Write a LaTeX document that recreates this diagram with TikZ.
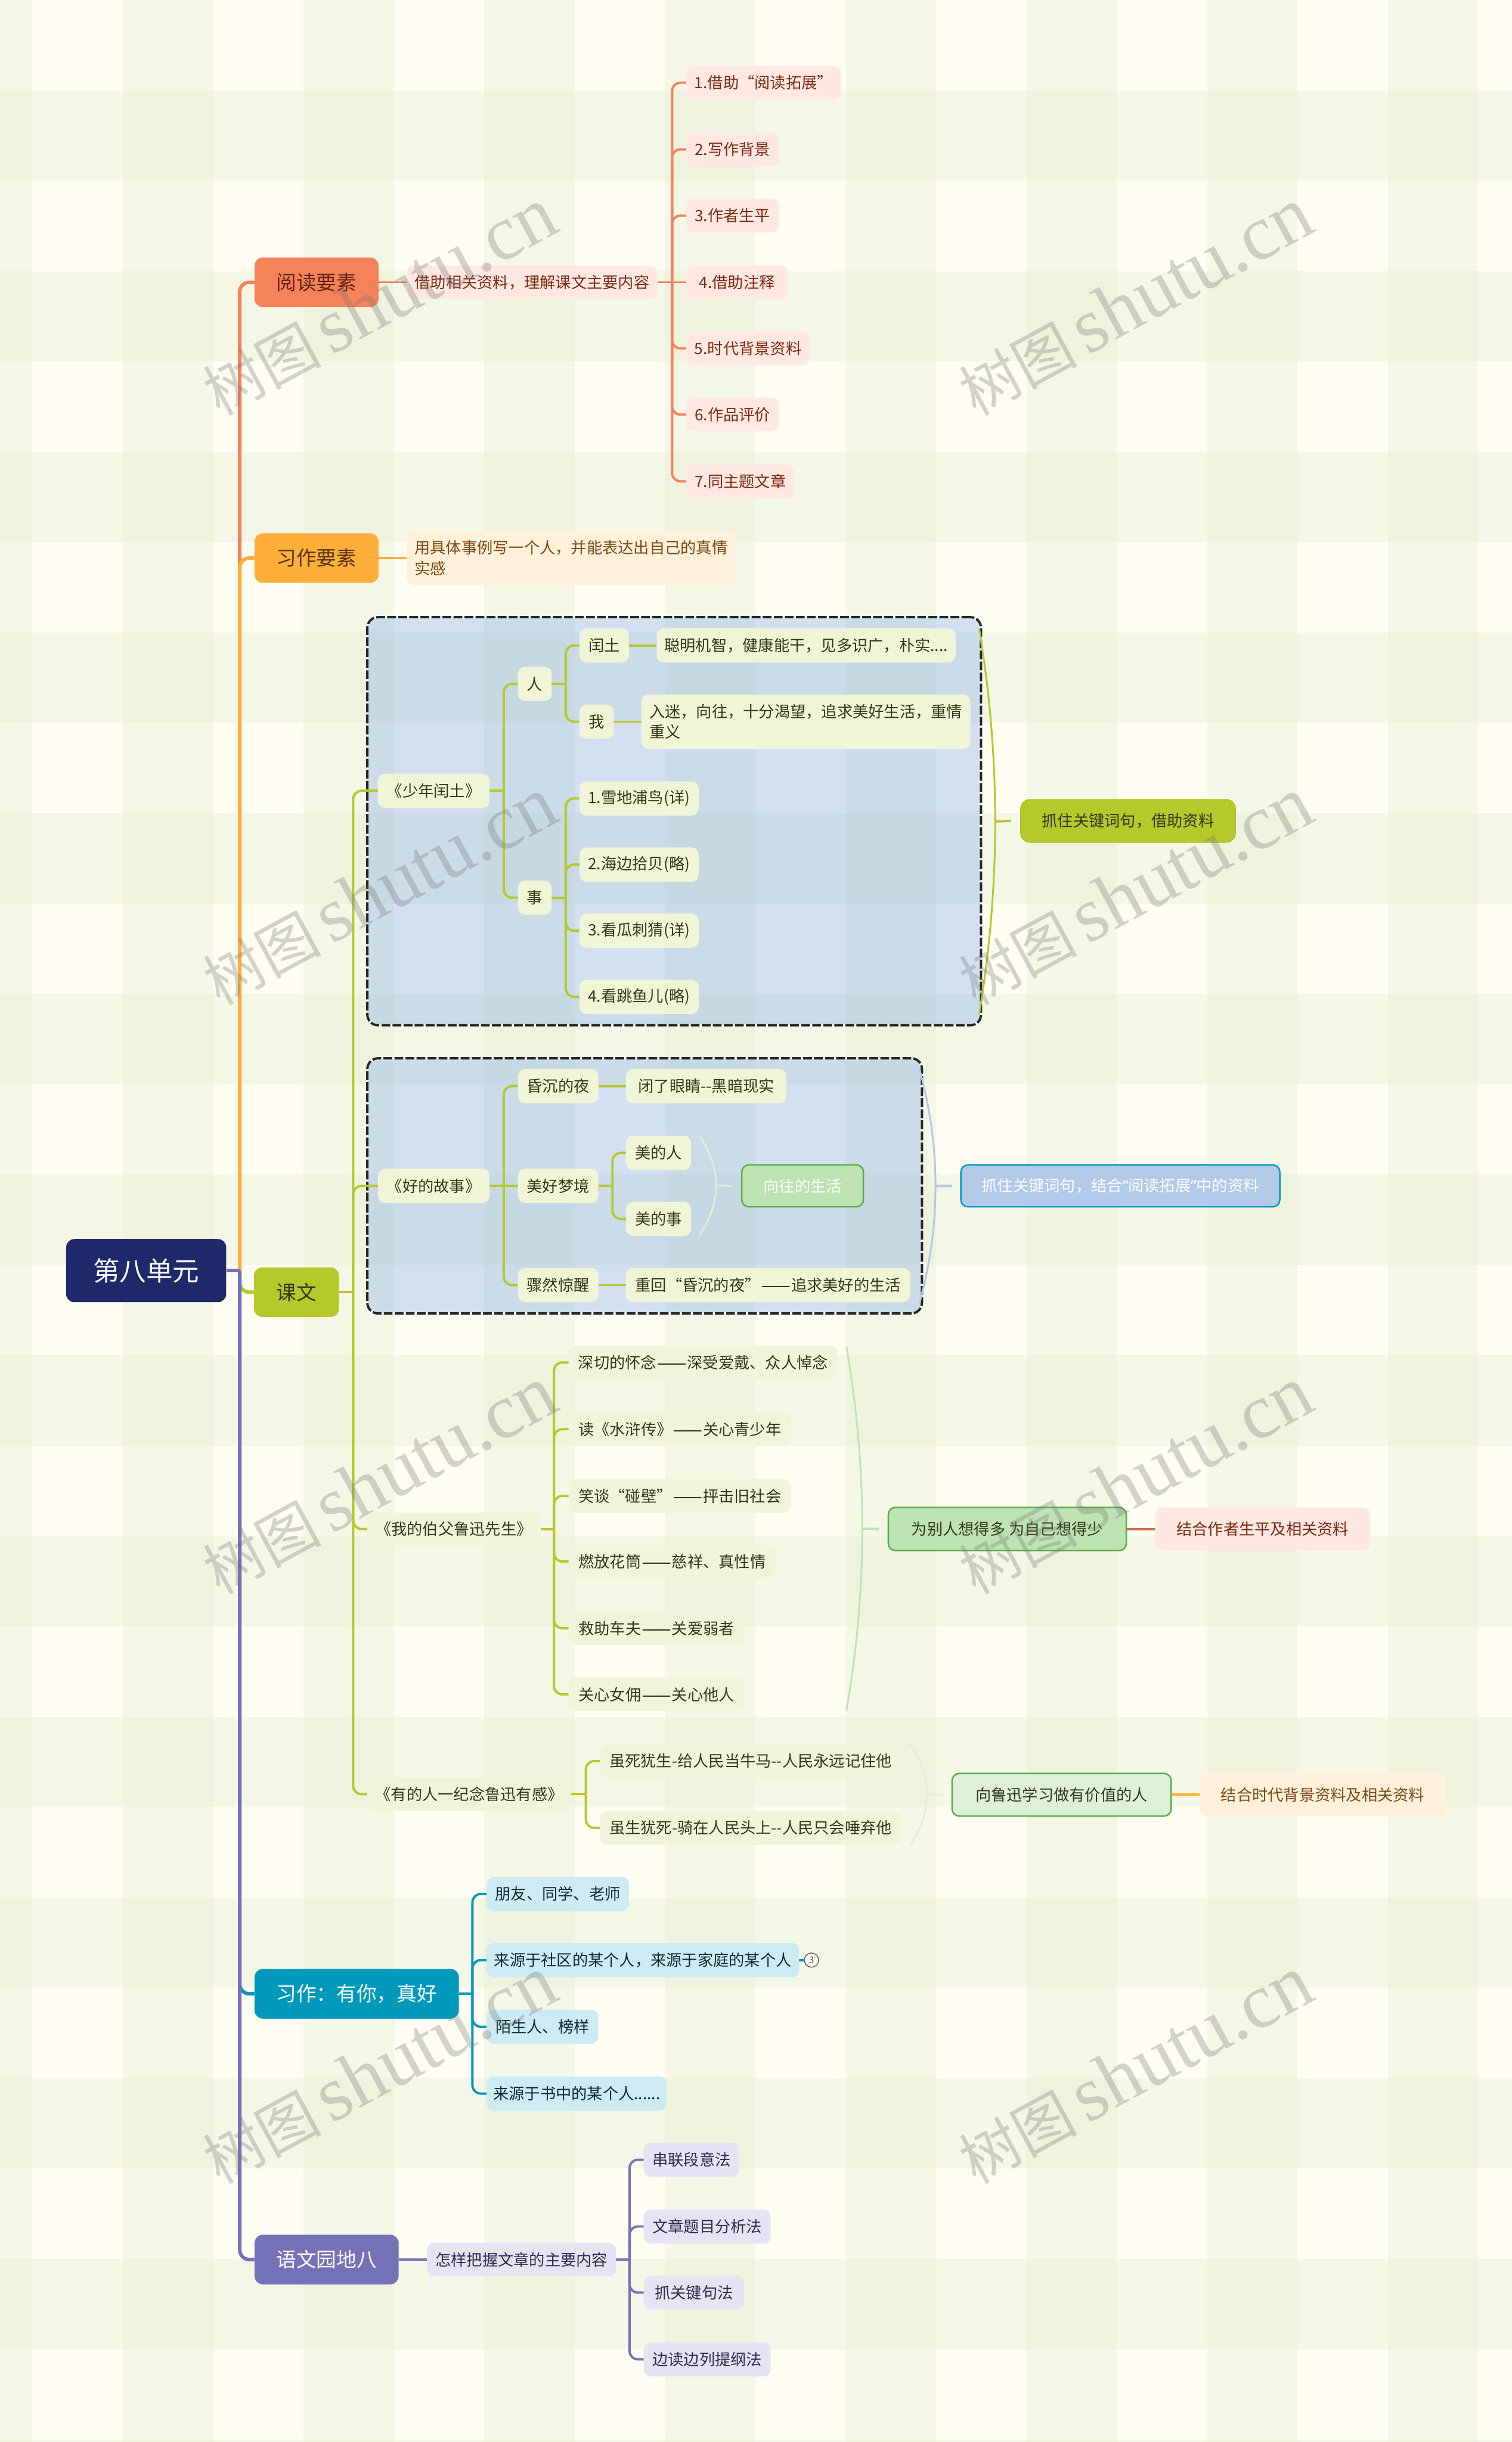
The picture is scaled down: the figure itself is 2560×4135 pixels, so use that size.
\documentclass[tikz,border=0pt]{standalone}
\usepackage{fontspec}
\setmainfont{Noto Sans CJK SC}
\newfontfamily\wmserif{Liberation Serif}
\newfontfamily\latq{Noto Sans}
\newcommand\emd{{\latq \kern1.5pt—\kern-4pt—\kern1.5pt}}
\definecolor{bgbase}{HTML}{FFFDF2}
\definecolor{bgone}{HTML}{F5F7E6}
\definecolor{bgtwo}{HTML}{EFF3DD}
\definecolor{cRed}{HTML}{F4825A}
\definecolor{cOrange}{HTML}{FFAE3A}
\definecolor{cOlive}{HTML}{B5C92B}
\definecolor{cTeal}{HTML}{0099BB}
\definecolor{cPurple}{HTML}{7672B8}
\definecolor{cNavy}{HTML}{1F2A6B}
\definecolor{fRed}{HTML}{FFE8E1}
\definecolor{fOrange}{HTML}{FFF0DC}
\definecolor{fOlive}{HTML}{F1F5D7}
\definecolor{fTeal}{HTML}{CCEBF3}
\definecolor{fPurple}{HTML}{E5E4F3}
\definecolor{tRed}{HTML}{7A2A10}
\definecolor{tOrange}{HTML}{7A4A10}
\definecolor{tOlive}{HTML}{33361A}
\definecolor{tTeal}{HTML}{10282E}
\definecolor{tPurple}{HTML}{2C2A50}
\definecolor{gLine}{HTML}{BDE3B2}
\definecolor{gPale}{HTML}{DDF0D8}
\definecolor{gBorder}{HTML}{5DAA4C}
\definecolor{bLine}{HTML}{B2C9E8}
\definecolor{groupFill}{HTML}{236CF2}
\tikzset{
  base/.style={rectangle,rounded corners=12pt,inner sep=0pt,font=\fontsize{26.5}{35}\selectfont,align=left},
  itemR/.style={base,fill=fRed,text=tRed},
  itemO/.style={base,fill=fOrange,text=tOrange},
  itemL/.style={base,fill=fOlive,text=tOlive},
  itemT/.style={base,fill=fTeal,text=tTeal},
  itemP/.style={base,fill=fPurple,text=tPurple},
  topic/.style={base,rounded corners=14pt,font=\fontsize{34}{40}\selectfont},
  sumA/.style={base,rounded corners=16pt,fill=cOlive,draw=cOlive!92!black,line width=1pt,text=tOlive},
  sumB/.style={base,rounded corners=12pt,fill=bLine,draw=cTeal,line width=2.5pt,text=white},
  sumC/.style={base,rounded corners=12pt,fill=gLine,draw=gBorder,line width=2.5pt,text=tOlive},
  sumD/.style={base,rounded corners=12pt,fill=gPale,draw=gBorder,line width=2.5pt,text=tOlive},
  sumE/.style={base,rounded corners=12pt,fill=gLine,draw=gBorder,line width=2.5pt,text=white},
  lk/.style={line width=4pt,rounded corners=14pt},
  trunk/.style={line width=6pt,rounded corners=16pt},
  brace/.style={line width=3pt},
  wmark/.style={rotate=28.5,text=black!55,opacity=.3,inner sep=0pt,font=\fontsize{100}{118}\selectfont},
  grpback/.style={rectangle,rounded corners=18pt,inner sep=0pt,fill=groupFill,fill opacity=.2,draw=white,draw opacity=1,line width=4pt},
  grpline/.style={rectangle,rounded corners=18pt,inner sep=0pt,draw=black!85,line width=4pt,dash pattern=on 15pt off 3.7pt}
}
% name, style, x1, x2, cy, height, text
\newcommand\mnode[7]{\node[#2,minimum width={(#4)-(#3)},minimum height=#6] (#1) at ({((#3)+(#4))/2},#5) {#7};}
% connector through a vertical spine: straight stub, then a rounded arm
\newcommand\viaspine[4]{\draw[lk,#1] (#2.east) -- (#2.east -| #3);
  \draw[lk,#1] (#2.east -| #3) -- (#4.west -| #3) -- (#4.west);}
\newcommand\direct[3]{\draw[lk,#1] (#2.east) -- (#3.west);}
% brace curve: name prefix, x, y top, y bottom, bulge, colour
\newcommand\bracecurve[6]{%
  \coordinate (#1t) at (#2,#3);
  \coordinate (#1b) at (#2,#4);
  \coordinate (#1p) at ({#2+#5},{(2*#3+#4)/3});
  \coordinate (#1q) at ({#2+#5},{(#3+2*#4)/3});
  \coordinate (#1m) at ({#2+.75*#5},{(#3+#4)/2});
  \draw[brace,#6] (#1t) .. controls (#1p) and (#1q) .. (#1b);}
\begin{document}
\begin{tikzpicture}[x=1pt,y=-1pt]
\useasboundingbox (0,0) rectangle (2560,4135);
% ---------- background
\begin{scope}
\clip (0,0) rectangle (2560,4135);
\fill[bgbase] (0,0) rectangle (2560,4135);
\foreach \i in {0,...,8}{\fill[bgone] ({-98+306*\i},0) rectangle ({55+306*\i},4135);}
\foreach \j in {0,...,13}{\fill[bgone] (0,{153+306*\j}) rectangle (2560,{306+306*\j});}
\foreach \i in {0,...,8}{\foreach \j in {0,...,13}{\fill[bgtwo] ({-98+306*\i},{153+306*\j}) rectangle ({55+306*\i},{306+306*\j});}}
\end{scope}
% ---------- dashed groups
\mnode{grpAb}{grpback}{622}{1661}{1390.5}{691}{}
\mnode{grpBb}{grpback}{622}{1561}{2008}{432}{}
\mnode{grpAl}{grpline}{622}{1661}{1390.5}{691}{}
\mnode{grpBl}{grpline}{622}{1561}{2008}{432}{}
% ---------- spine coordinates
\coordinate (spMain) at (406,0);
\coordinate (spRead) at (1138,0);
\coordinate (spText) at (598,0);
\coordinate (spShao) at (853,0);
\coordinate (spRen) at (958,0);
\coordinate (spGood) at (853,0);
\coordinate (spDream) at (1037,0);
\coordinate (spBo) at (938,0);
\coordinate (spYou) at (992,0);
\coordinate (spWrite) at (800,0);
\coordinate (spGarden) at (1066,0);
% ---------- nodes
\mnode{root}{topic,fill=cNavy,text=white,rounded corners=14pt,font=\fontsize{45}{50}\selectfont}{112}{383}{2151.5}{107}{第八单元}
\mnode{read}{topic,fill=cRed,text=tRed!80!black}{431}{641}{478}{84}{阅读要素}
\mnode{goal}{topic,fill=cOrange,text=tOrange!70!black}{431}{641}{945}{84}{习作要素}
\mnode{text}{topic,fill=cOlive,text=tOlive}{430}{574}{2188}{84}{课文}
\mnode{write}{topic,fill=cTeal,text=white}{431}{777}{3376}{84}{习作：有你，真好}
\mnode{garden}{topic,fill=cPurple,text=white}{431}{675}{3826}{84}{语文园地八}
% reading
\mnode{readc}{itemR}{689}{1113}{478}{56}{借助相关资料，理解课文主要内容}
\mnode{r1}{itemR}{1162}{1424}{140}{57}{1.借助“阅读拓展”}
\mnode{r2}{itemR}{1162}{1319}{253}{57}{2.写作背景}
\mnode{r3}{itemR}{1162}{1319}{365}{57}{3.作者生平}
\mnode{r4}{itemR}{1162}{1334}{478}{57}{4.借助注释}
\mnode{r5}{itemR}{1162}{1371}{590}{57}{5.时代背景资料}
\mnode{r6}{itemR}{1162}{1319}{702}{57}{6.作品评价}
\mnode{r7}{itemR}{1162}{1345}{815}{57}{7.同主题文章}
% goal
\mnode{goalc}{itemO}{689}{1245}{945}{91}{\parbox{530pt}{\fontsize{26.5}{35}\selectfont 用具体事例写一个人，并能表达出自己的真情\\实感}}
% shaonian runtu
\mnode{sh}{itemL}{640}{829}{1339}{58}{《少年闰土》}
\mnode{ren}{itemL}{877}{934}{1158}{58}{人}
\mnode{shi}{itemL}{877}{934}{1520}{58}{事}
\mnode{rt}{itemL}{981}{1065}{1093}{58}{闰土}
\mnode{rtc}{itemL}{1112}{1618}{1093}{58}{聪明机智，健康能干，见多识广，朴实....}
\mnode{wo}{itemL}{981}{1039}{1222}{58}{我}
\mnode{woc}{itemL}{1086}{1643}{1222}{92}{\parbox{530pt}{\fontsize{26.5}{35}\selectfont 入迷，向往，十分渴望，追求美好生活，重情\\重义}}
\mnode{s1}{itemL}{981}{1183}{1352}{58}{1.雪地浦鸟(详)}
\mnode{s2}{itemL}{981}{1183}{1464}{58}{2.海边拾贝(略)}
\mnode{s3}{itemL}{981}{1183}{1576}{58}{3.看瓜刺猜(详)}
\mnode{s4}{itemL}{981}{1183}{1688}{58}{4.看跳鱼儿(略)}
\mnode{sumShao}{sumA}{1728}{2092}{1390}{73}{抓住关键词句，借助资料}
% good story
\mnode{gd}{itemL}{640}{829}{2008}{58}{《好的故事》}
\mnode{g1}{itemL}{877}{1013}{1839}{58}{昏沉的夜}
\mnode{g1c}{itemL}{1060}{1332}{1839}{58}{闭了眼睛-{}-黑暗现实}
\mnode{g2}{itemL}{877}{1013}{2008}{58}{美好梦境}
\mnode{g2a}{itemL}{1060}{1170}{1952}{58}{美的人}
\mnode{g2b}{itemL}{1060}{1170}{2064}{58}{美的事}
\mnode{g3}{itemL}{877}{1013}{2176}{58}{骤然惊醒}
\mnode{g3c}{itemL}{1060}{1541}{2176}{58}{重回“昏沉的夜”\emd 追求美好的生活}
\mnode{gdream}{sumE}{1256}{1462}{2008}{71}{向往的生活}
\mnode{sumGood}{sumB}{1627}{2167}{2008}{71}{抓住关键词句，结合{\latq “}阅读拓展{\latq ”}中的资料}
% uncle
\mnode{bo}{itemL,fill=bgtwo!55!fOlive}{622}{915}{2589}{56}{《我的伯父鲁迅先生》}
\mnode{b1}{itemL,fill=bgtwo!55!fOlive}{963}{1418}{2307}{57}{深切的怀念\emd 深受爱戴、众人悼念}
\mnode{b2}{itemL,fill=bgtwo!55!fOlive}{963}{1339}{2420}{57}{读《水浒传》\emd 关心青少年}
\mnode{b3}{itemL,fill=bgtwo!55!fOlive}{963}{1339}{2533}{57}{笑谈“碰壁”\emd 抨击旧社会}
\mnode{b4}{itemL,fill=bgtwo!55!fOlive}{963}{1313}{2644}{57}{燃放花筒\emd 慈祥、真性情}
\mnode{b5}{itemL,fill=bgtwo!55!fOlive}{963}{1260}{2757}{57}{救助车夫\emd 关爱弱者}
\mnode{b6}{itemL,fill=bgtwo!55!fOlive}{963}{1260}{2869}{57}{关心女佣\emd 关心他人}
\mnode{sumBo}{sumC}{1504}{1907}{2589}{73}{为别人想得多 为自己想得少}
\mnode{sumBo2}{itemR}{1956}{2320}{2589}{73}{结合作者生平及相关资料}
% some people
\mnode{yo}{itemL,fill=bgtwo!55!fOlive}{622}{967}{3038}{56}{《有的人一纪念鲁迅有感》}
\mnode{y1}{itemL,fill=bgtwo!55!fOlive}{1016}{1526}{2982}{57}{虽死犹生-给人民当牛马-{}-人民永远记住他}
\mnode{y2}{itemL,fill=bgtwo!55!fOlive}{1016}{1526}{3095}{57}{虽生犹死-骑在人民头上-{}-人民只会唾弃他}
\mnode{sumYo}{sumD}{1612}{1983}{3039}{72}{向鲁迅学习做有价值的人}
\mnode{sumYo2}{itemO}{2031}{2448}{3039}{73}{结合时代背景资料及相关资料}
% writing
\mnode{w1}{itemT}{824}{1065}{3207}{58}{朋友、同学、老师}
\mnode{w2}{itemT}{824}{1353}{3319}{58}{来源于社区的某个人，来源于家庭的某个人}
\mnode{w3}{itemT}{824}{1013}{3432}{58}{陌生人、榜样}
\mnode{w4}{itemT}{824}{1129}{3545}{58}{来源于书中的某个人......}
\node[circle,draw=black!60,fill=bgbase,line width=1.5pt,minimum size=24pt,inner sep=0pt,text=black!70,font=\fontsize{16}{16}\selectfont] (w2more) at (1374,3319) {3};
% garden
\mnode{gc}{itemP}{723}{1043}{3826}{57}{怎样把握文章的主要内容}
\mnode{p1}{itemP}{1090}{1252}{3657}{58}{串联段意法}
\mnode{p2}{itemP}{1090}{1305}{3770}{58}{文章题目分析法}
\mnode{p3}{itemP}{1090}{1260}{3882}{58}{抓关键句法}
\mnode{p4}{itemP}{1090}{1305}{3995}{58}{边读边列提纲法}
% main trunk
\draw[trunk,cRed] (root.east -| spMain) -- (read.west -| spMain) -- (read.west);
\draw[trunk,cOrange] (root.east -| spMain) -- (goal.west -| spMain) -- (goal.west);
\draw[trunk,cOlive] (root.east -| spMain) -- (text.west -| spMain) -- (text.west);
\draw[trunk,cTeal] (root.east -| spMain) -- (write.west -| spMain) -- (write.west);
\draw[trunk,cPurple] (root.east -| spMain) -- (garden.west -| spMain) -- (garden.west);
\draw[trunk,cPurple] (root.east) -- (root.east -| spMain);
% reading
\direct{cRed}{read}{readc}
\foreach \n in {r1,r2,r3,r5,r6,r7}{\viaspine{cRed}{readc}{spRead}{\n}}
\direct{cRed}{readc}{r4}
\direct{cOrange}{goal}{goalc}
% lesson
\foreach \n in {sh,gd,bo,yo}{\viaspine{cOlive}{text}{spText}{\n}}
\viaspine{cOlive}{sh}{spShao}{ren}
\viaspine{cOlive}{sh}{spShao}{shi}
\viaspine{cOlive}{ren}{spRen}{rt}
\viaspine{cOlive}{ren}{spRen}{wo}
\direct{cOlive}{rt}{rtc}
\direct{cOlive}{wo}{woc}
\foreach \n in {s1,s2,s3,s4}{\viaspine{cOlive}{shi}{spRen}{\n}}
\viaspine{cOlive}{gd}{spGood}{g1}
\direct{cOlive}{gd}{g2}
\viaspine{cOlive}{gd}{spGood}{g3}
\direct{cOlive}{g1}{g1c}
\direct{cOlive}{g3}{g3c}
\viaspine{cOlive}{g2}{spDream}{g2a}
\viaspine{cOlive}{g2}{spDream}{g2b}
\foreach \n in {b1,b2,b3,b4,b5,b6}{\viaspine{cOlive}{bo}{spBo}{\n}}
\foreach \n in {y1,y2}{\viaspine{cOlive}{yo}{spYou}{\n}}
% summaries
\bracecurve{bA}{1658}{1065}{1717}{36}{cOlive}
\coordinate (bAe) at (1712,1390);
\draw[brace,line width=4pt,cOlive] (bAm) -- (bAe);
\bracecurve{bB}{1557}{1811}{2206}{36}{bLine}
\coordinate (bBe) at (1612,2008);
\draw[brace,line width=4pt,bLine] (bBm) -- (bBe);
\bracecurve{bC}{1184}{1923}{2092}{38}{gPale}
\coordinate (bCe) at (1241,2008);
\draw[brace,gPale] (bCm) -- (bCe);
\bracecurve{bD}{1433}{2280}{2897}{36}{gLine}
\coordinate (bDe) at (1489,2589);
\draw[brace,line width=4pt,gLine] (bDm) -- (bDe);
\bracecurve{bE}{1541}{2953}{3124}{38}{gPale}
\coordinate (bEe) at (1597,3039);
\draw[brace,gPale] (bEm) -- (bEe);
\direct{cRed!85!black}{sumBo}{sumBo2}
\direct{cOrange}{sumYo}{sumYo2}
% writing
\foreach \n in {w1,w2,w3,w4}{\viaspine{cTeal}{write}{spWrite}{\n}}
\draw[line width=4pt,cTeal] (w2.east) -- (w2more.west);
% garden
\direct{cPurple}{garden}{gc}
\foreach \n in {p1,p2,p3,p4}{\viaspine{cPurple}{gc}{spGarden}{\n}}
% ---------- watermark
\foreach \x/\nm in {642/a,1922/b}{
  \foreach \y/\nn in {511/a,1509/b,2507/c,3505/d}{
    \node[wmark] (wm\nm\nn) at (\x,\y) {树图\,{\wmserif\fontsize{132}{132}\selectfont shutu.cn}};
  }
}
\end{tikzpicture}
\end{document}
